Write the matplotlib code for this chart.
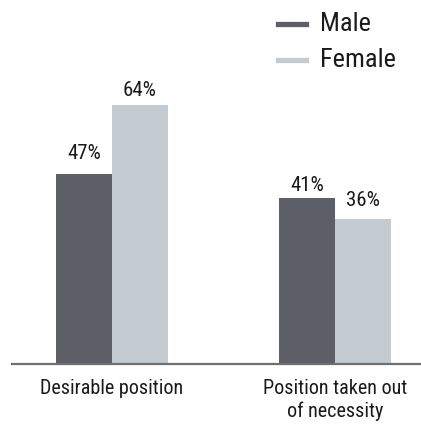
import matplotlib
matplotlib.use("Agg")
import matplotlib.pyplot as plt
from matplotlib.lines import Line2D
from matplotlib import font_manager

names = {f.name for f in font_manager.fontManager.ttflist}
prefs = ["Roboto Condensed", "PT Sans Narrow", "Archivo Narrow", "Asap Condensed",
         "DejaVu Sans"]
fam = next(p for p in prefs if p in names)
plt.rcParams['font.family'] = [fam, 'DejaVu Sans']
if fam == "DejaVu Sans":
    plt.rcParams['font.stretch'] = 'condensed'

categories = ["Desirable position", "Position taken out\nof necessity"]
series_names = ["Male", "Female"]
male = [47, 41]
female = [64, 36]
colors = ["#5c5f67", "#c4cbd3"]
# label gaps above bars (pixels), as laid out in the reference
male_gap = [15, 7]
female_gap = [9, 13]

W, H = 421, 424
fig = plt.figure(figsize=(W/100, H/100), dpi=100)
ax = fig.add_axes([12/W, (H-364)/H, (W-12)/W, 364/H])
ax.set_xlim(-0.448, 1.386)
ax.set_ylim(0, 364/4.04)
bw = 0.251
x = [0, 1]
for vals, gaps, off, c in [(male, male_gap, -bw/2, colors[0]),
                           (female, female_gap, bw/2, colors[1])]:
    bars = ax.bar([xi + off for xi in x], vals, width=bw, color=c, zorder=2)
    for b, v, g in zip(bars, vals, gaps):
        ax.annotate(f"{v}%", (b.get_x() + b.get_width()/2, v), xytext=(0, g),
                    textcoords="offset pixels", ha="center", va="baseline",
                    fontsize=15, color="#1a1a1a")
for s in ["top", "right", "left"]:
    ax.spines[s].set_visible(False)
ax.spines["bottom"].set_color("#6e6e6e")
ax.spines["bottom"].set_linewidth(1.6)
ax.set_yticks([])
ax.set_xticks(x)
ax.set_xticklabels(categories, fontsize=14.5, color="#1a1a1a", linespacing=1.2)
ax.tick_params(axis="x", length=0, pad=11)

# legend
for i, (name, c) in enumerate(zip(series_names, colors)):
    yy = 1 - (24 + 36*i)/H
    fig.add_artist(Line2D([278/W, 306/W], [yy, yy], color=c, lw=3.8,
                          transform=fig.transFigure))
    fig.text(320/W, yy, name, fontsize=19, va="center", ha="left", color="#1a1a1a")

fig.savefig("out.png", dpi=100)
